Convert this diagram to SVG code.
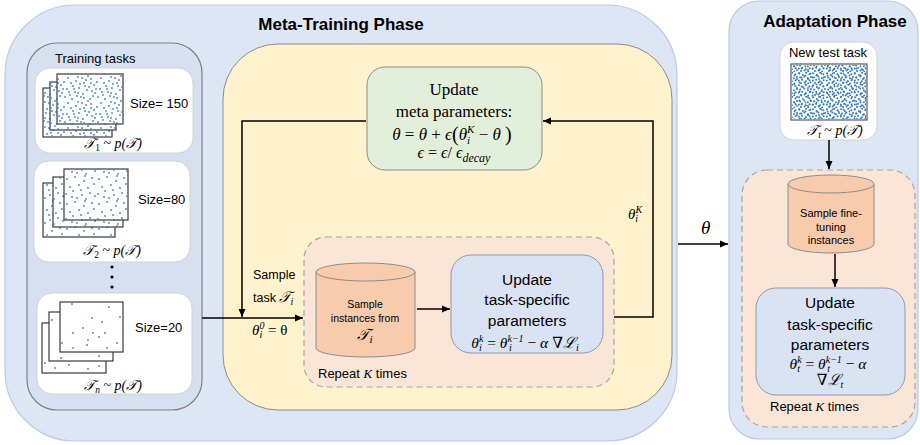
<svg xmlns="http://www.w3.org/2000/svg" width="920" height="445" viewBox="0 0 920 445">
<defs>
<style>
.phase{fill:#dce6f4;stroke:#b8cbe8;stroke-width:1.2}
.title{font-family:"Liberation Sans",Arial,sans-serif;font-weight:bold;font-size:17px;text-anchor:middle;fill:#000}
.sans{font-family:"Liberation Sans",Arial,sans-serif;fill:#000}
.serif{font-family:"Liberation Serif","DejaVu Serif",serif;fill:#000}
.m{font-family:"Liberation Serif","DejaVu Serif",serif;font-style:italic}
.card{fill:#fff;stroke:#d4d4d4;stroke-width:1}
.paper{fill:#fff;stroke:#3a3a3a;stroke-width:1.2}
.conn{fill:none;stroke:#000;stroke-width:1.5}
.cyl{fill:#f8cbad;stroke:#8c8c8c;stroke-width:1}
.bluebox{fill:#dae3f3;stroke:#8c9bb0;stroke-width:1}
.dash{fill:#fbe5d6;stroke:#a6a6a6;stroke-width:1.2;stroke-dasharray:6 4}
.dot{fill:#3c86cc}
.dd{fill:#2f78c0}
</style>
<marker id="arr" markerWidth="9" markerHeight="8" refX="8" refY="4" orient="auto" markerUnits="userSpaceOnUse"><path d="M0,0.5 L8,4 L0,7.5 z" fill="#000"/></marker>
<pattern id="p150" width="33" height="25" patternUnits="userSpaceOnUse">
<g class="dot">
<circle cx="2" cy="3" r="0.9"/><circle cx="7" cy="11" r="0.9"/><circle cx="12" cy="2" r="0.9"/><circle cx="18" cy="8" r="0.9"/><circle cx="25" cy="4" r="0.9"/><circle cx="30" cy="14" r="0.9"/><circle cx="4" cy="20" r="0.9"/><circle cx="9" cy="17" r="0.9"/><circle cx="15" cy="22" r="0.9"/><circle cx="21" cy="15" r="0.9"/><circle cx="27" cy="21" r="0.9"/><circle cx="31" cy="7" r="0.9"/><circle cx="5" cy="8" r="0.9"/><circle cx="13" cy="13" r="0.9"/><circle cx="22" cy="1" r="0.9"/><circle cx="28" cy="10" r="0.9"/><circle cx="1" cy="14" r="0.9"/><circle cx="17" cy="19" r="0.9"/><circle cx="24" cy="24" r="0.9"/><circle cx="10" cy="6" r="0.9"/><circle cx="19" cy="11" r="0.9"/><circle cx="29" cy="18" r="0.9"/><circle cx="6" cy="24" r="0.9"/><circle cx="14" cy="9" r="0.9"/><circle cx="26" cy="16" r="0.9"/><circle cx="32" cy="22" r="0.9"/><circle cx="3" cy="17" r="0.9"/><circle cx="11" cy="21" r="0.9"/><circle cx="20" cy="5" r="0.9"/><circle cx="16" cy="3" r="0.9"/><circle cx="23" cy="12" r="0.9"/><circle cx="8" cy="14" r="0.9"/><circle cx="12" cy="18" r="0.9"/><circle cx="25" cy="8" r="0.9"/><circle cx="18" cy="23" r="0.9"/>
</g>
</pattern>
<pattern id="p80" width="32" height="25" patternUnits="userSpaceOnUse">
<g class="dot">
<circle cx="3" cy="4" r="0.9"/><circle cx="11" cy="2" r="0.9"/><circle cx="20" cy="6" r="0.9"/><circle cx="28" cy="3" r="0.9"/><circle cx="6" cy="12" r="0.9"/><circle cx="15" cy="10" r="0.9"/><circle cx="24" cy="13" r="0.9"/><circle cx="30" cy="9" r="0.9"/><circle cx="2" cy="19" r="0.9"/><circle cx="9" cy="16" r="0.9"/><circle cx="18" cy="20" r="0.9"/><circle cx="26" cy="18" r="0.9"/><circle cx="13" cy="23" r="0.9"/><circle cx="22" cy="24" r="0.9"/><circle cx="31" cy="21" r="0.9"/><circle cx="17" cy="15" r="0.9"/><circle cx="8" cy="22" r="0.9"/><circle cx="21" cy="1" r="0.9"/>
</g>
</pattern>
<pattern id="pDense" width="14" height="12" patternUnits="userSpaceOnUse">
<g class="dd">
<circle cx="1" cy="1.2" r="1"/><circle cx="4.9" cy="2.9" r="1"/><circle cx="8.2" cy="0.8" r="1"/><circle cx="11.4" cy="2.3" r="1"/><circle cx="2.1" cy="5.6" r="1"/><circle cx="6.3" cy="4.6" r="1"/><circle cx="9.9" cy="6.2" r="1"/><circle cx="13" cy="5" r="1"/><circle cx="0.8" cy="8.6" r="1"/><circle cx="4.1" cy="7.7" r="1"/><circle cx="7.9" cy="9.3" r="1"/><circle cx="11.6" cy="8.2" r="1"/><circle cx="3" cy="11" r="1"/><circle cx="6.6" cy="10.6" r="1"/><circle cx="10.2" cy="11.4" r="1"/>
</g>
</pattern>
<pattern id="pDense2" width="11" height="9" patternUnits="userSpaceOnUse">
<g class="dd">
<circle cx="2.5" cy="3.5" r="0.9"/><circle cx="7.5" cy="1.5" r="0.9"/><circle cx="5" cy="7" r="0.9"/><circle cx="9.5" cy="5.5" r="0.9"/>
</g>
</pattern>
</defs>

<!-- Phase containers -->
<g id="meta-phase">
<rect class="phase" x="5" y="5" width="672" height="436" rx="70"/>
<text class="title" x="341" y="30">Meta-Training Phase</text>
</g>
<g id="adapt-phase">
<rect class="phase" x="729" y="1" width="189" height="438" rx="30"/>
<text class="title" x="835" y="27">Adaptation Phase</text>
</g>

<!-- Training tasks -->
<g id="training-tasks">
<rect x="27" y="43" width="175" height="367" rx="30" fill="#d6e0f1" stroke="#808080" stroke-width="1.2"/>
<text class="sans" x="55" y="63" font-size="13">Training tasks</text>
<circle cx="112" cy="267" r="1.6"/><circle cx="112" cy="277" r="1.6"/><circle cx="112" cy="287" r="1.6"/>
</g>

<g id="task1">
<rect class="card" x="35" y="68" width="158" height="85" rx="15"/>
<rect class="paper" x="43" y="88" width="69" height="49"/><rect x="43" y="88" width="69" height="49" fill="url(#p150)"/>
<rect class="paper" x="50" y="82" width="66" height="48"/><rect x="50" y="82" width="66" height="48" fill="url(#p150)"/>
<rect class="paper" x="57" y="74" width="66" height="50"/><rect x="57" y="74" width="66" height="50" fill="url(#p150)"/>
<text class="sans" x="130" y="108" font-size="13">Size= 150</text>
<text class="m" x="113" y="148" font-size="14" text-anchor="middle">&#x1D4AF;<tspan font-size="9.5" font-style="normal" dy="3">1</tspan><tspan font-style="normal" dy="-3"> ~ </tspan>p(&#x1D4AF;)</text>
</g>

<g id="task2">
<rect class="card" x="34" y="161" width="156" height="101" rx="15"/>
<rect class="paper" x="43" y="183" width="72" height="54"/><rect x="43" y="183" width="72" height="54" fill="url(#p80)"/>
<rect class="paper" x="53" y="177" width="70" height="50"/><rect x="53" y="177" width="70" height="50" fill="url(#p80)"/>
<rect class="paper" x="64" y="169" width="64" height="51"/><rect x="64" y="169" width="64" height="51" fill="url(#p80)"/>
<text class="sans" x="138" y="204" font-size="13">Size=80</text>
<text class="m" x="112" y="255" font-size="14" text-anchor="middle">&#x1D4AF;<tspan font-size="9.5" font-style="normal" dy="3">2</tspan><tspan font-style="normal" dy="-3"> ~ </tspan>p(&#x1D4AF;)</text>
</g>

<g id="taskn">
<rect class="card" x="37" y="293" width="155" height="101" rx="15"/>
<rect class="paper" x="42" y="323" width="64" height="50"/>
<g class="dot"><circle cx="45" cy="363" r="0.9"/><circle cx="55" cy="368" r="0.9"/><circle cx="69" cy="365" r="0.9"/><circle cx="88" cy="369" r="0.9"/><circle cx="99" cy="366" r="0.9"/></g>
<rect class="paper" x="49" y="312" width="64" height="49"/>
<g class="dot"><circle cx="52" cy="320" r="0.9"/><circle cx="61" cy="358" r="0.9"/><circle cx="99" cy="356" r="0.9"/></g>
<rect class="paper" x="60" y="302" width="63" height="50"/>
<g class="dot"><circle cx="72" cy="304" r="0.9"/><circle cx="109" cy="307" r="0.9"/><circle cx="120" cy="317" r="0.9"/><circle cx="92" cy="318" r="0.9"/><circle cx="102" cy="322" r="0.9"/><circle cx="83" cy="328" r="0.9"/><circle cx="73" cy="333" r="0.9"/><circle cx="93" cy="333" r="0.9"/><circle cx="105" cy="333" r="0.9"/><circle cx="99" cy="337" r="0.9"/><circle cx="88" cy="340" r="0.9"/><circle cx="62" cy="343" r="0.9"/><circle cx="117" cy="343" r="0.9"/><circle cx="87" cy="345" r="0.9"/><circle cx="73" cy="348" r="0.9"/><circle cx="107" cy="348" r="0.9"/></g>
<text class="sans" x="135" y="332" font-size="13">Size=20</text>
<text class="m" x="113" y="390" font-size="14" text-anchor="middle">&#x1D4AF;<tspan font-size="9.5" dy="3">n</tspan><tspan font-style="normal" dy="-3"> ~ </tspan>p(&#x1D4AF;)</text>
</g>

<!-- Meta-training inner -->
<g id="meta-loop">
<rect x="223" y="44" width="449" height="366" rx="55" fill="#fff2cc" stroke="#8c8c8c" stroke-width="1"/>
</g>

<g id="update-meta">
<rect x="367" y="67" width="175" height="103" rx="18" fill="#e2efda" stroke="#8c8c8c" stroke-width="1"/>
<text class="serif" x="454" y="95" font-size="17" text-anchor="middle">Update</text>
<text class="serif" x="454" y="117" font-size="17" text-anchor="middle">meta parameters:</text>
<text class="serif" x="452" y="140" font-size="17" text-anchor="middle"><tspan class="m">θ</tspan> = <tspan class="m">θ</tspan> + <tspan class="m">ϵ</tspan><tspan font-size="20" dy="1">(</tspan><tspan class="m" dy="-1">θ</tspan><tspan class="m" font-size="11" dy="-7">K</tspan><tspan class="m" font-size="11" dx="-7.3" dy="11">i</tspan><tspan dx="4.3" dy="-4"> − </tspan><tspan class="m">θ</tspan> <tspan font-size="20" dy="1">)</tspan></text>
<text class="serif" x="454" y="158" font-size="16" text-anchor="middle"><tspan class="m">ϵ</tspan>  = <tspan class="m">ϵ</tspan>/ <tspan class="m">ϵ</tspan><tspan class="m" font-size="12" dy="4">decay</tspan></text>
</g>

<g id="repeat-meta">
<rect class="dash" x="304" y="237" width="310" height="150" rx="22"/>
<text class="sans" x="318" y="378" font-size="13">Repeat <tspan class="m">K</tspan> times</text>
</g>

<g id="sample-instances">
<path class="cyl" d="M316,272 L316,348 A49.5,9 0 0 0 415,348 L415,272 Z"/>
<ellipse class="cyl" cx="365.5" cy="272" rx="49.5" ry="9"/>
<text class="sans" x="365" y="308" font-size="10.5" text-anchor="middle" fill="#595959">Sample</text>
<text class="sans" x="365" y="322" font-size="10.5" text-anchor="middle" fill="#595959">instances from</text>
<text class="m" x="365" y="340" font-size="16" text-anchor="middle">&#x1D4AF;<tspan font-size="11" dy="3">i</tspan></text>
</g>

<g id="update-task">
<rect class="bluebox" x="451" y="255" width="152" height="98" rx="20"/>
<text class="sans" x="527" y="285" font-size="15.5" text-anchor="middle">Update</text>
<text class="sans" x="527" y="305" font-size="15.5" text-anchor="middle">task-specific</text>
<text class="sans" x="527" y="326" font-size="15.5" text-anchor="middle">parameters</text>
<text class="serif" x="525" y="348" font-size="15.5" text-anchor="middle"><tspan class="m">θ</tspan><tspan class="m" font-size="10" dy="-6">k</tspan><tspan class="m" font-size="10" dx="-4.4" dy="9">i</tspan><tspan dx="1.6" dy="-3"> = </tspan><tspan class="m">θ</tspan><tspan class="m" font-size="10" dy="-6">k−1</tspan><tspan class="m" font-size="10" dx="-14.7" dy="9">i</tspan><tspan dx="11.9" dy="-3"> − </tspan><tspan class="m">α</tspan> ∇<tspan class="m">ℒ</tspan><tspan class="m" font-size="10" dy="3">i</tspan></text>
</g>

<!-- Adaptation inner -->
<g id="test-task">
<rect class="card" x="780" y="42" width="97" height="98" rx="14"/>
<text class="sans" x="828" y="57" font-size="13" text-anchor="middle">New test task</text>
<rect x="791" y="64" width="76" height="56" fill="#fff" stroke="#595959" stroke-width="1.2"/>
<rect x="792" y="65" width="74" height="54" fill="url(#pDense)"/>
<rect x="792" y="65" width="74" height="54" fill="url(#pDense2)"/>
<text class="m" x="835" y="135" font-size="14" text-anchor="middle">&#x1D4AF;<tspan font-size="9.5" dy="3">t</tspan><tspan font-style="normal" dy="-3"> ~ </tspan>p(&#x1D4AF;)</text>
</g>

<g id="repeat-adapt">
<rect class="dash" x="742" y="170" width="173" height="257" rx="25"/>
<text class="sans" x="770" y="411" font-size="13">Repeat <tspan class="m">K</tspan> times</text>
</g>

<g id="sample-finetune">
<path class="cyl" d="M788,184 L788,244 A43,9 0 0 0 874,244 L874,184 Z"/>
<ellipse class="cyl" cx="831" cy="184" rx="43" ry="9"/>
<text class="sans" x="831" y="217" font-size="11" text-anchor="middle" fill="#404040">Sample fine-</text>
<text class="sans" x="831" y="231" font-size="11" text-anchor="middle" fill="#404040">tuning</text>
<text class="sans" x="831" y="244" font-size="11" text-anchor="middle" fill="#404040">instances</text>
</g>

<g id="update-adapt">
<rect class="bluebox" x="756" y="288" width="149" height="107" rx="20"/>
<text class="sans" x="830" y="308" font-size="15.5" text-anchor="middle">Update</text>
<text class="sans" x="830" y="330" font-size="15.5" text-anchor="middle">task-specific</text>
<text class="sans" x="830" y="350" font-size="15.5" text-anchor="middle">parameters</text>
<text class="serif" x="828" y="369" font-size="15.5" text-anchor="middle"><tspan class="m">θ</tspan><tspan class="m" font-size="10" dy="-6">k</tspan><tspan class="m" font-size="10" dx="-4.4" dy="9">t</tspan><tspan dx="1.6" dy="-3"> = </tspan><tspan class="m">θ</tspan><tspan class="m" font-size="10" dy="-6">k−1</tspan><tspan class="m" font-size="10" dx="-14.7" dy="9">t</tspan><tspan dx="11.9" dy="-3"> − </tspan><tspan class="m">α</tspan></text>
<text class="serif" x="830" y="385" font-size="15.5" text-anchor="middle">∇<tspan class="m">ℒ</tspan><tspan class="m" font-size="10" dy="3">t</tspan></text>
</g>

<!-- Connectors -->
<g id="connectors">
<path class="conn" d="M366,121 L242,121 L242,317" marker-end="url(#arr)"/>
<path class="conn" d="M202,318 L303,318" marker-end="url(#arr)"/>
<path class="conn" d="M417,309 L450,309" marker-end="url(#arr)"/>
<path class="conn" d="M614,317 L653,317 L653,121 L543,121" marker-end="url(#arr)"/>
<path class="conn" d="M678,244 L728,244" marker-end="url(#arr)"/>
<path class="conn" d="M829,140 L829,169" marker-end="url(#arr)"/>
<path class="conn" d="M835,254 L835,287" marker-end="url(#arr)"/>
</g>

<g id="connector-labels">
<text class="sans" x="253" y="279" font-size="12.5">Sample</text>
<text class="sans" x="253" y="302" font-size="12.5">task <tspan class="m" font-size="15">&#x1D4AF;</tspan><tspan class="m" font-size="10" dy="3">i</tspan></text>
<text class="serif" x="252" y="335" font-size="15"><tspan class="m">θ</tspan><tspan class="m" font-size="10" dy="-6">0</tspan><tspan class="m" font-size="10" dx="-5" dy="9">i</tspan><tspan dx="2.2" dy="-3"> = θ</tspan></text>
<text class="serif" x="628" y="219" font-size="15"><tspan class="m">θ</tspan><tspan class="m" font-size="10" dy="-6">K</tspan><tspan class="m" font-size="10" dx="-6.7" dy="9">i</tspan></text>
<text class="m" x="701" y="234" font-size="19">θ</text>
</g>
</svg>
